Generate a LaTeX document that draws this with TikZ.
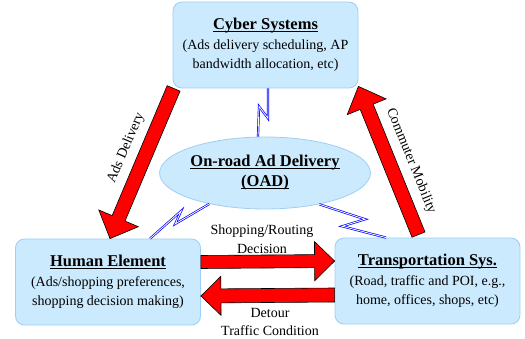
\documentclass[tikz,border=0pt]{standalone}
\usepackage{fontspec}
\setmainfont{Liberation Serif}
\usetikzlibrary{calc,shapes.geometric}

\definecolor{boxfill}{RGB}{204,234,253}
\definecolor{boxline}{RGB}{158,206,243}

\tikzset{
  sysbox/.style={draw=boxline, fill=boxfill, line width=0.8pt, rounded corners=9pt,
    minimum width=185pt, minimum height=86pt, align=center, inner sep=0pt,
    font=\fontsize{14}{19.5}\selectfont},
  hub/.style={ellipse, draw=boxline, fill=boxfill, line width=0.8pt,
    minimum width=174pt, minimum height=72pt, align=center, inner sep=0pt,
    font=\fontsize{14}{20}\selectfont},
  lbl/.style={align=center, inner sep=0pt, font=\fontsize{14}{18.5}\selectfont},
  fatarrow/.style={fill=red, draw=black, line width=0.6pt, line join=miter},
  bolt/.style={draw=blue, double=white, line width=0.7pt, double distance=0.8pt, line join=miter}
}

% bold underlined heading inside a box
\newcommand{\heading}[1]{{\fontsize{16.5}{19.5}\selectfont\bfseries\setbox0\hbox{#1}\rlap{\rule[-2.4pt]{\wd0}{0.9pt}}\box0}}

% block arrow: from, to, half shaft, half head, head length
\newcommand{\fatarrow}[5]{%
  \coordinate (neck) at ($(#2)!#5!(#1)$);
  \draw[fatarrow] ($(#1)!#3!90:(#2)$) -- ($(neck)!#3!90:(#2)$) -- ($(neck)!#4!90:(#2)$) -- (#2)
    -- ($(neck)!#4!-90:(#2)$) -- ($(neck)!#3!-90:(#2)$) -- ($(#1)!#3!-90:(#2)$) -- cycle;}

\begin{document}
\begin{tikzpicture}[x=1pt,y=-1pt]
  \useasboundingbox (0,0) rectangle (525,339);

  \node[sysbox] (cyber) at (265.5,45) {\heading{Cyber Systems}\\(Ads delivery scheduling, AP\\bandwidth allocation, etc)};
  \node[sysbox] (human) at (108,282) {\heading{Human Element}\\(Ads/shopping preferences,\\shopping decision making)};
  \node[sysbox] (transport) at (427.5,281) {\heading{Transportation Sys.}\\(Road, traffic and POI, e.g.,\\home, offices, shops, etc)};
  \node[hub] (oad) at (265,173) {\heading{On-road Ad Delivery}\\\heading{(OAD)}};

  % wireless links
  \draw[bolt] ([xshift=2.5pt]cyber.south) -- ++(0,30) -- ++(-9,-12) -- ([xshift=-7pt]oad.north);
  \draw[bolt] (oad.209) -- ++(-34,20) -- ++(6,-13) -- ([xshift=42pt]human.north);
  \draw[bolt] (oad.330) -- ++(46,15) -- ++(-23,7) -- ([xshift=-41.5pt]transport.north);

  % end points of the block arrows
  \coordinate (adsfrom) at ([xshift=1pt]cyber.south west);
  \coordinate (adsto) at ([xshift=2pt]human.north);
  \coordinate (mobfrom) at ([xshift=-9pt,yshift=3pt]transport.north);
  \coordinate (mobto) at ([yshift=2pt]cyber.south east);
  \coordinate (planfrom) at ([yshift=20pt]human.east);
  \coordinate (planto) at ([yshift=20pt]transport.west);
  \coordinate (detourfrom) at ([yshift=-14pt]transport.west);
  \coordinate (detourto) at ([yshift=-14pt]human.east);

  \fatarrow{adsfrom}{adsto}{7pt}{21.5pt}{22pt}
  \fatarrow{mobfrom}{mobto}{7pt}{21pt}{22pt}
  \fatarrow{planfrom}{planto}{6.5pt}{19.5pt}{20pt}
  \fatarrow{detourfrom}{detourto}{7pt}{19.5pt}{20pt}

  \node[lbl, rotate=67] (adstext) at (126,148) {Ads Delivery};
  \node[lbl, rotate=-68] (mobtext) at (411,161) {Commuter Mobility};
  \node[lbl] (plantext) at (262,239) {Shopping/Routing\\Decision};
  \node[lbl] (detourtext) at (270,322) {Detour\\Traffic Condition};
\end{tikzpicture}
\end{document}
